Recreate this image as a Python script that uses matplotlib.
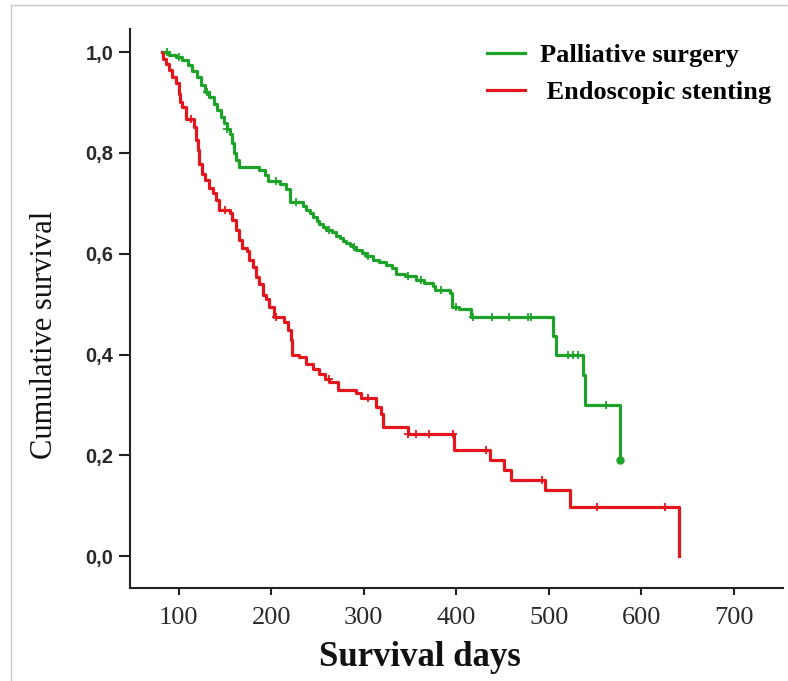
import numpy as np
import matplotlib
matplotlib.use("Agg")
import matplotlib.pyplot as plt
from matplotlib.lines import Line2D

# Kaplan-Meier steps: (day, survival after the step)
surgery_days = [82, 90, 97, 104, 110, 115, 120, 124, 129, 133, 138, 142, 146, 149,
                152, 155, 158, 160, 162, 165, 187, 193, 197, 210, 216, 220, 234,
                238, 242, 245, 249, 252, 256, 259, 266, 270, 274, 278, 281, 285,
                288, 292, 298, 303, 310, 317, 324, 331, 335, 345, 357, 365, 375,
                377, 393, 395, 403, 416, 504, 508, 537, 539, 577]
surgery_surv = [1.0, 0.995, 0.99, 0.985, 0.975, 0.963, 0.95, 0.935, 0.922, 0.911,
                0.898, 0.885, 0.872, 0.859, 0.848, 0.837, 0.82, 0.80, 0.786, 0.772,
                0.766, 0.757, 0.745, 0.738, 0.728, 0.703, 0.695, 0.687, 0.68, 0.673,
                0.666, 0.66, 0.653, 0.647, 0.643, 0.636, 0.632, 0.626, 0.622, 0.617,
                0.613, 0.607, 0.602, 0.595, 0.588, 0.583, 0.577, 0.571, 0.56, 0.556,
                0.548, 0.543, 0.537, 0.528, 0.523, 0.495, 0.491, 0.475, 0.436, 0.40,
                0.36, 0.30, 0.19]
surgery_censored = [88, 100, 131, 152, 205, 227, 262, 290, 305, 348, 362, 383,
                    400, 418, 439, 457, 477, 481, 521, 526, 531, 562]

stent_days = [82, 83, 86, 90, 93, 97, 100, 102, 104, 108, 117, 119, 120.5, 122,
              125, 129, 133, 137, 140, 144, 156, 158, 162, 165.6, 169, 174, 176.4,
              180, 184, 187, 191, 194.5, 198, 203.5, 214, 218, 221.6, 223, 230.5,
              237.7, 245, 252, 258, 263, 272, 292, 297, 313, 319, 320.5, 347.6,
              398, 436, 452, 459.4, 495.4, 522.4, 641]
stent_surv = [1.0, 0.987, 0.977, 0.964, 0.951, 0.938, 0.918, 0.901, 0.891, 0.868,
              0.852, 0.825, 0.806, 0.779, 0.759, 0.746, 0.73, 0.72, 0.706, 0.687,
              0.681, 0.667, 0.647, 0.627, 0.611, 0.605, 0.587, 0.574, 0.554, 0.541,
              0.518, 0.511, 0.495, 0.475, 0.465, 0.448, 0.429, 0.399, 0.395, 0.382,
              0.372, 0.362, 0.352, 0.346, 0.329, 0.323, 0.313, 0.296, 0.283, 0.257,
              0.243, 0.21, 0.19, 0.171, 0.151, 0.131, 0.098, 0.0]
stent_censored = [113, 150, 205, 262, 305, 348, 356, 370, 396, 432, 493, 552, 626]

x_ticks = [100, 200, 300, 400, 500, 600, 700]
y_ticks = [0.0, 0.2, 0.4, 0.6, 0.8, 1.0]
y_ticklabels = ["0,0", "0,2", "0,4", "0,6", "0,8", "1,0"]

GREEN = "#1fa22a"
RED = "#e3161d"


def _at(days, surv, t):
    i = np.searchsorted(days, t, side="right") - 1
    return np.asarray(surv)[i]


W, H = 788, 681
fig = plt.figure(figsize=(W / 100, H / 100), dpi=100)
fig.patch.set_facecolor("white")
# thin grey frame (left and top edges only, as in the scan)
fig.add_artist(Line2D([11 / W, 11 / W, 1.0], [0.0, 1 - 5 / H, 1 - 5 / H],
                      transform=fig.transFigure, color="#c8c8c8", lw=1.0))

ax = fig.add_axes([130 / W, (H - 588) / H, (783 - 130) / W, (588 - 29) / H])

l1, = ax.step(surgery_days, surgery_surv, where="post", color=GREEN, lw=2.3)
l2, = ax.step(stent_days, stent_surv, where="post", color=RED, lw=2.3)
ax.plot(surgery_censored, _at(surgery_days, surgery_surv, surgery_censored), "+",
        color=GREEN, ms=6, mew=1.3, linestyle="none")
ax.plot(stent_censored, _at(stent_days, stent_surv, stent_censored), "+",
        color=RED, ms=6, mew=1.3, linestyle="none")
ax.plot(surgery_days[-1], surgery_surv[-1], "o", color=GREEN, ms=5)

ax.set_xlim(47.5, 753)
ax.set_ylim(-0.063, 1.046)
for side in ("top", "right"):
    ax.spines[side].set_visible(False)
for side in ("left", "bottom"):
    ax.spines[side].set_linewidth(1.5)
    ax.spines[side].set_color("#222222")

ax.set_xticks(x_ticks)
ax.set_yticks(y_ticks)
ax.set_yticklabels(y_ticklabels, fontfamily="Liberation Sans", fontweight="bold",
                   fontsize=14.5, color="#2a2a2a")
ax.set_xticklabels([str(v) for v in x_ticks], fontfamily="Liberation Serif",
                   fontsize=19, color="#2a2a2a")
ax.tick_params(axis="y", length=8, width=1.5, pad=4, color="#222222")
ax.tick_params(axis="x", length=5, width=1.5, pad=9, color="#222222")

fig.text(420 / W, 1 - 657 / H, "Survival days", ha="center", va="center",
         fontfamily="Liberation Serif", fontweight="bold", fontsize=25,
         color="#111111")
fig.text(45 / W, 1 - 335 / H, "Cumulative survival", rotation=90,
         ha="center", va="center", fontfamily="Liberation Serif", fontsize=22,
         color="#111111")

ax.legend([l1, l2], ["Palliative surgery", " Endoscopic stenting"],
          loc="upper left", bbox_to_anchor=(463 / W, 1 - 20 / H),
          bbox_transform=fig.transFigure, frameon=False,
          prop={"family": "Liberation Serif", "weight": "bold", "size": 19},
          handlelength=1.45, handletextpad=0.55, labelspacing=0.5)

fig.savefig("out.png", dpi=100)
